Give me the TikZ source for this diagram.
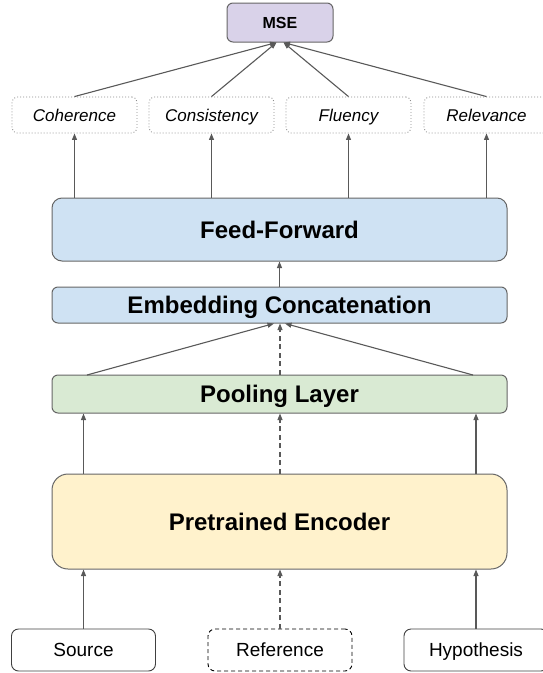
\documentclass[tikz,border=0pt]{standalone}
\usepackage{fontspec}
\setmainfont{Liberation Sans}
\usetikzlibrary{arrows.meta}
\definecolor{boxline}{HTML}{666666}
\definecolor{arrcol}{HTML}{595959}
\definecolor{msefill}{HTML}{D9D2E9}
\definecolor{bluefill}{HTML}{CFE2F3}
\definecolor{greenfill}{HTML}{D9EAD3}
\definecolor{yellowfill}{HTML}{FFF2CC}
\definecolor{dotcol}{HTML}{8C8C8C}
\definecolor{inputline}{HTML}{404040}
\tikzset{
  layer/.style={draw=boxline, line width=1pt, minimum width=455pt, inner sep=0pt, anchor=center,
    text height=17.5pt, text depth=0.5pt, font=\fontsize{24}{28}\selectfont\bfseries},
  msebox/.style={draw=boxline, line width=1pt, fill=msefill, rounded corners=6pt, minimum width=106pt,
    minimum height=39pt, inner sep=0pt, text height=11.5pt, text depth=0pt,
    font=\fontsize{16}{19}\selectfont\bfseries},
  metric/.style={draw=dotcol, line width=0.9pt, dash pattern=on 0.9pt off 2.1pt, rounded corners=5pt,
    minimum width=125pt, minimum height=36pt, inner sep=0pt, text height=12.5pt, text depth=0.5pt,
    font=\fontsize{17}{20}\selectfont\itshape},
  inputbox/.style={draw=inputline, line width=0.9pt, rounded corners=7pt, minimum width=144pt,
    minimum height=42pt, inner sep=0pt, text height=13.6pt, text depth=0pt,
    font=\fontsize{19}{22}\selectfont},
  arr/.style={draw=arrcol, line width=1.1pt, -{Triangle[length=6.5pt,width=5pt]}},
  arrdash/.style={arr, dash pattern=on 5pt off 3.5pt},
}
\begin{document}
\begin{tikzpicture}[x=1pt,y=-1pt]
\useasboundingbox (0,0) rectangle (542,673);
% nodes
\node[msebox] (mse) at (280,22.5) {MSE};
\node[metric] (coh) at (74.5,115) {Coherence};
\node[metric] (con) at (211.5,115) {Consistency};
\node[metric] (flu) at (348.5,115) {Fluency};
\node[metric] (rel) at (486.5,115) {Relevance};
\node[layer, fill=bluefill, rounded corners=10pt, minimum height=63pt] (ff) at (279.5,229.5) {Feed-Forward};
\node[layer, fill=bluefill, rounded corners=6pt, minimum height=36pt] (emb) at (279.5,305) {Embedding Concatenation};
\node[layer, fill=greenfill, rounded corners=6pt, minimum height=38pt] (pool) at (279.5,394) {Pooling Layer};
\node[layer, fill=yellowfill, rounded corners=16pt, minimum height=95pt] (enc) at (279.5,521.5) {Pretrained Encoder};
\node[inputbox] (src) at (83.5,650) {Source};
\node[inputbox, draw=black, dash pattern=on 4pt off 3pt] (ref) at (280,650) {Reference};
\node[inputbox] (hyp) at (476,650) {Hypothesis};
% inputs to encoder
\draw[arr] (src.north) -- (src.north |- enc.south);
\draw[arrdash] (ref.north) -- (ref.north |- enc.south);
\draw[arr] (hyp.north) -- (hyp.north |- enc.south);
% encoder to pooling
\draw[arr] (enc.north -| src.north) -- (pool.south -| src.north);
\draw[arrdash] (enc.north -| ref.north) -- (pool.south -| ref.north);
\draw[arr] (enc.north -| hyp.north) -- (pool.south -| hyp.north);
% pooling to embedding
\coordinate (pl) at (87,375);
\coordinate (pr) at (473,375);
\draw[arr] (pl) -- ([xshift=-5.5pt]emb.south);
\draw[arrdash] (pool.north -| ref.north) -- (emb.south -| ref.north);
\draw[arr] (pr) -- ([xshift=5.5pt]emb.south);
% embedding to feed-forward
\draw[arr] (emb.north) -- (ff.south);
% feed-forward to metrics
\draw[arr] (ff.north -| coh.south) -- (coh.south);
\draw[arr] (ff.north -| con.south) -- (con.south);
\draw[arr] (ff.north -| flu.south) -- (flu.south);
\draw[arr] (ff.north -| rel.south) -- (rel.south);
% metrics to MSE
\draw[arr] (coh.north) -- ([xshift=-3.5pt]mse.south);
\draw[arr] (con.north) -- ([xshift=-3.5pt]mse.south);
\draw[arr] (flu.north) -- ([xshift=3.5pt]mse.south);
\draw[arr] (rel.north) -- ([xshift=3.5pt]mse.south);
\end{tikzpicture}
\end{document}
